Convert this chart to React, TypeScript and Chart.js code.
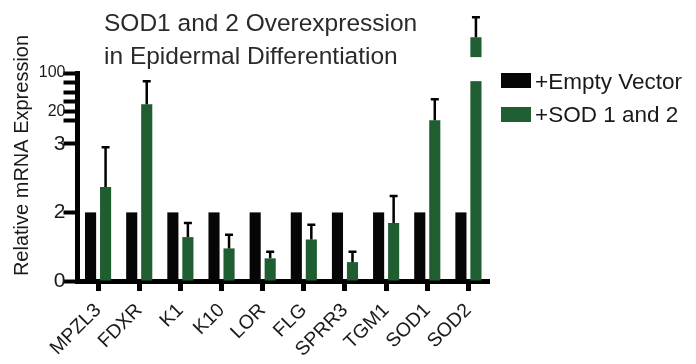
import { useEffect, useRef } from 'react';
import { Chart, registerables } from 'chart.js';

Chart.register(...registerables);

// ---------- data ----------
const categories = ['MPZL3', 'FDXR', 'K1', 'K10', 'LOR', 'FLG', 'SPRR3', 'TGM1', 'SOD1', 'SOD2'];
const seriesNames = ['+Empty Vector', '+SOD 1 and 2'];
const emptyVector = [2, 2, 2, 2, 2, 2, 2, 2, 2, 2];
const sodValues = [2.37, 26.8, 1.28, 0.95, 0.66, 1.21, 0.55, 1.69, 13.7, 449];
const sodErrors = [0.58, 43.8, 0.41, 0.4, 0.19, 0.43, 0.3, 0.55, 19.4, 590];
const sod2Break = [71, 195];
const yTickValues = [0, 2, 3, 13.4, 20, 29.9, 44.7, 66.9, 100];
const yTickLabels = ['0', '2', '3', '', '20', '', '', '', '100'];
const titleLines = ['SOD1 and 2 Overexpression', 'in Epidermal Differentiation'];
const yAxisTitle = 'Relative mRNA Expression';

// ---------- styles ----------
const FONT = '"Liberation Sans", Arial, Helvetica, sans-serif';
const BLACK = '#060606';
const GREEN = '#1e5e31';
const TEXT = '#1a1a1a';

// segmented axis: [0,2] and [2,3] linear pieces, a gap, then a log segment
const A20 = 2.474;
const K_DEC = 0.798;
const LOG_START = 13.4;
const logPart = (v: number) => A20 + K_DEC * Math.log10(v / 20);
function toAxis(v: number): number {
  if (v <= 2) return v / 2;
  if (v <= 3) return 1 + (v - 2);
  if (v < LOG_START) return 2 + ((v - 3) / (LOG_START - 3)) * (logPart(LOG_START) - 2);
  return logPart(v);
}

const decorations = {
  id: 'decorations',
  afterDatasetsDraw(chart: any) {
    const ctx = chart.ctx;
    const y = chart.scales.y;
    const meta = chart.getDatasetMeta(1);
    ctx.save();
    // break in the tallest bar
    const last = meta.data[meta.data.length - 1];
    const yLo = y.getPixelForValue(toAxis(sod2Break[0]));
    const yHi = y.getPixelForValue(toAxis(sod2Break[1]));
    ctx.fillStyle = '#ffffff';
    ctx.fillRect(last.x - last.width / 2 - 1, yHi, last.width + 2, yLo - yHi);
    // upward error bars
    ctx.strokeStyle = '#000';
    ctx.lineWidth = 2.5;
    meta.data.forEach((bar: any, i: number) => {
      const top = y.getPixelForValue(toAxis(sodValues[i] + sodErrors[i]));
      ctx.beginPath();
      ctx.moveTo(bar.x, bar.y);
      ctx.lineTo(bar.x, top);
      ctx.moveTo(bar.x - 4, top);
      ctx.lineTo(bar.x + 4, top);
      ctx.stroke();
    });
    ctx.restore();
  },
  afterDraw(chart: any) {
    const ctx = chart.ctx;
    ctx.save();
    // title
    ctx.fillStyle = '#2a2a2a';
    ctx.font = `24.5px ${FONT}`;
    ctx.textAlign = 'left';
    ctx.textBaseline = 'alphabetic';
    ctx.fillText(titleLines[0], 104, 31);
    ctx.fillText(titleLines[1], 104, 64);
    // legend
    ctx.font = `22.5px ${FONT}`;
    chart.data.datasets.forEach((ds: any, i: number) => {
      ctx.fillStyle = ds.backgroundColor;
      ctx.fillRect(501, 73 + i * 34, 30, 15);
      ctx.fillStyle = TEXT;
      ctx.fillText(ds.label, 535, 88.5 + i * 33.5);
    });
    // y axis title
    ctx.translate(28, 155.5);
    ctx.rotate(-Math.PI / 2);
    ctx.textAlign = 'center';
    ctx.font = `20px ${FONT}`;
    ctx.fillStyle = TEXT;
    ctx.fillText(yAxisTitle, 0, 0);
    ctx.restore();
  },
};

export default function App() {
  const ref = useRef<HTMLCanvasElement>(null);

  useEffect(() => {
    if (!ref.current) return;
    const chart = new Chart(ref.current, {
      type: 'bar',
      data: {
        labels: categories,
        datasets: [
          { label: seriesNames[0], data: emptyVector.map(toAxis), backgroundColor: BLACK, clip: false } as any,
          { label: seriesNames[1], data: sodValues.map(toAxis), backgroundColor: GREEN, clip: false } as any,
        ],
      },
      options: {
        responsive: false,
        animation: false,
        devicePixelRatio: 1,
        categoryPercentage: 0.73,
        barPercentage: 0.74,
        layout: { padding: { top: 73, right: 207, left: 0, bottom: 0 } },
        plugins: { legend: { display: false }, tooltip: { enabled: false }, title: { display: false } },
        scales: {
          x: {
            offset: true,
            grid: { display: true, drawOnChartArea: false, drawTicks: true, tickLength: 10, tickWidth: 5, tickColor: '#000', offset: false },
            border: { display: true, color: '#000', width: 5 },
            ticks: { autoSkip: false, minRotation: 45, maxRotation: 45, color: TEXT, padding: 8, font: { family: FONT, size: 19.5 } },
            afterFit: (s: any) => { s.height = 83; },
          },
          y: {
            min: 0,
            max: toAxis(100),
            afterBuildTicks: (s: any) => { s.ticks = yTickValues.map((v) => ({ value: toAxis(v) })); },
            grid: { display: true, drawOnChartArea: false, drawTicks: true, tickLength: 14, tickWidth: 4, tickColor: '#000' },
            border: { display: true, color: '#000', width: 5 },
            ticks: {
              autoSkip: false,
              padding: -2,
              color: TEXT,
              callback: (_v: any, i: number) => yTickLabels[i],
              font: (c: any) => ({ family: FONT, size: c.index < 3 ? 21 : 16 }),
            },
            afterFit: (s: any) => { s.width = 77.5; },
          },
        },
      } as any,
      plugins: [decorations],
    });
    return () => chart.destroy();
  }, []);

  return (
    <div style={{ position: 'fixed', left: 0, top: 0, width: 696, height: 364, background: '#fff' }}>
      <canvas ref={ref} width={696} height={364} style={{ display: 'block' }} />
    </div>
  );
}
